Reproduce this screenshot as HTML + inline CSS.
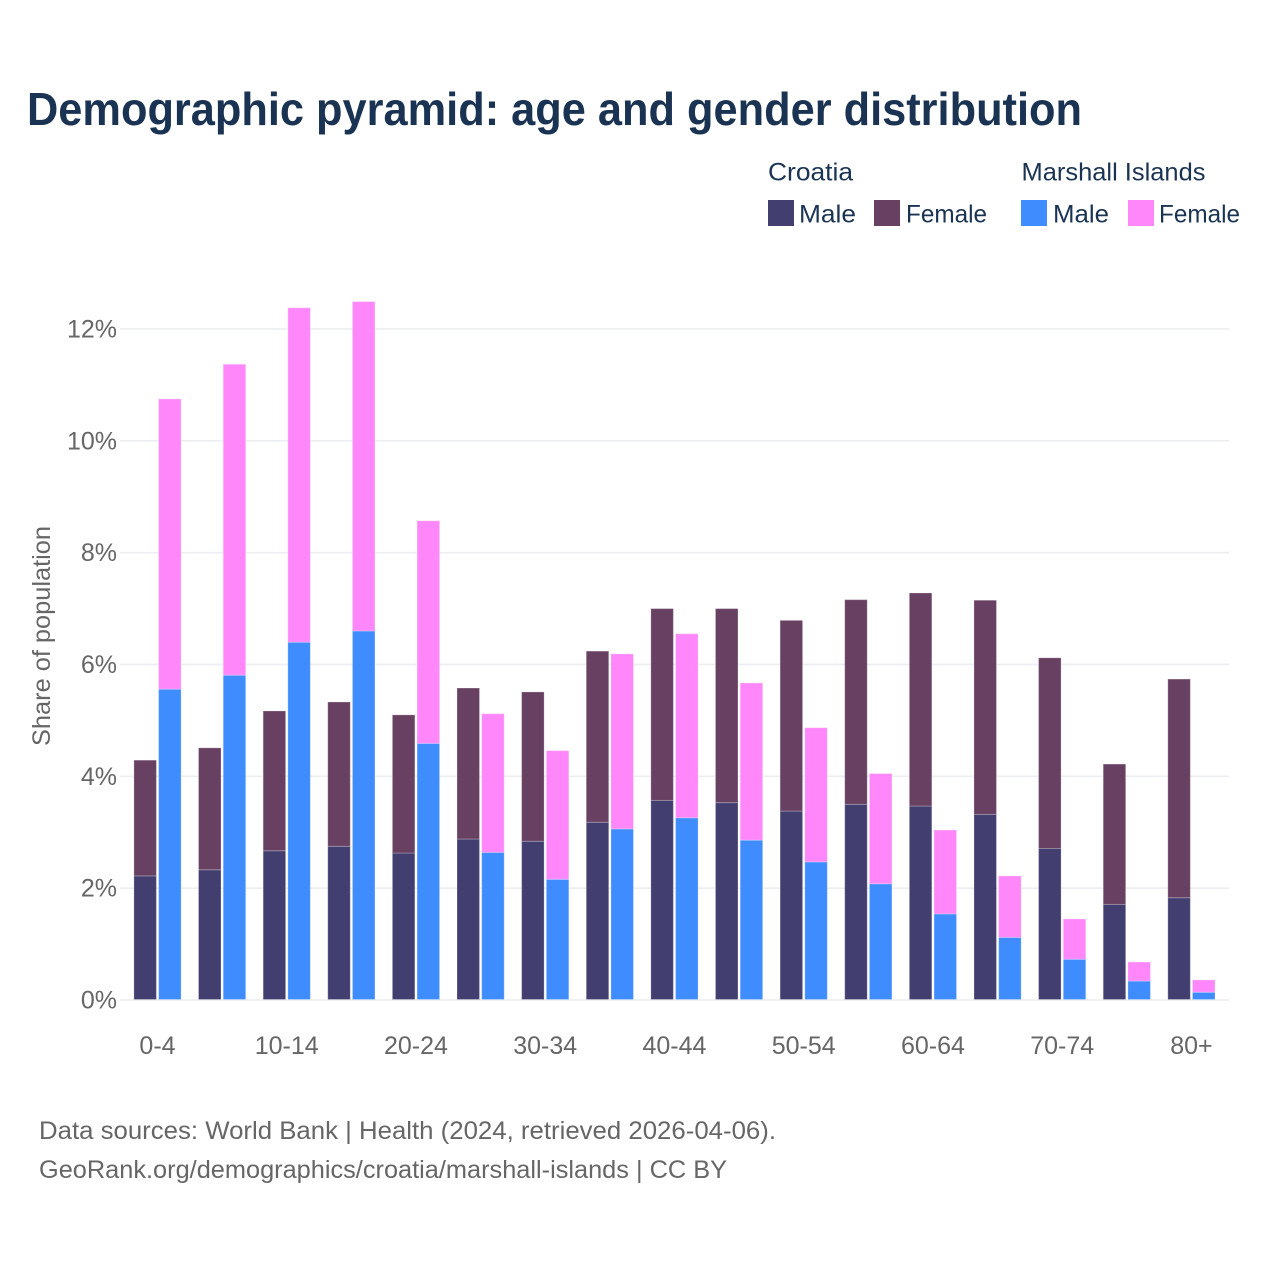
<!DOCTYPE html>
<html lang="en">
<head>
<meta charset="utf-8">
<title>Demographic pyramid: age and gender distribution</title>
<style>
html,body{margin:0;padding:0;background:#fff;}
svg{display:block;}
text{font-family:"Liberation Sans",sans-serif;}
.title{font-size:46px;font-weight:700;fill:#1a3353;}
.legend{font-size:25px;fill:#1a3353;}
.tick{font-size:25px;fill:#666666;}
.foot{font-size:25px;fill:#666666;}
</style>
</head>
<body>
<svg id="chart" xmlns="http://www.w3.org/2000/svg" width="1280" height="1280" viewBox="0 0 1280 1280">
  <rect x="0" y="0" width="1280" height="1280" fill="#ffffff"/>
  <text class="title" x="27" y="125" textLength="1055" lengthAdjust="spacingAndGlyphs">Demographic pyramid: age and gender distribution</text>

  <g>
    <text class="legend" x="768" y="180.5" textLength="85" lengthAdjust="spacingAndGlyphs">Croatia</text>
    <text class="legend" x="1021.5" y="180.5" textLength="184" lengthAdjust="spacingAndGlyphs">Marshall Islands</text>
    <rect x="768" y="200" width="26" height="26" fill="#423e70"/>
    <text class="legend" x="799" y="222.5" textLength="57" lengthAdjust="spacingAndGlyphs">Male</text>
    <rect x="874" y="200" width="26" height="26" fill="#674062"/>
    <text class="legend" x="906" y="222.5" textLength="81" lengthAdjust="spacingAndGlyphs">Female</text>
    <rect x="1021" y="200" width="26" height="26" fill="#3f8cff"/>
    <text class="legend" x="1053" y="222.5" textLength="56" lengthAdjust="spacingAndGlyphs">Male</text>
    <rect x="1128" y="200" width="26" height="26" fill="#ff87fa"/>
    <text class="legend" x="1159" y="222.5" textLength="81" lengthAdjust="spacingAndGlyphs">Female</text>
  </g>

  <text class="tick" transform="translate(50,636) rotate(-90)" text-anchor="middle" textLength="220" lengthAdjust="spacingAndGlyphs">Share of population</text>

  <g id="grid"></g>
  <g id="bars"></g>
  <g id="yticks"></g>
  <g id="xticks"></g>

  <text class="foot" x="39" y="1139" textLength="737" lengthAdjust="spacingAndGlyphs">Data sources: World Bank | Health (2024, retrieved 2026-04-06).</text>
  <text class="foot" x="39" y="1178" textLength="688" lengthAdjust="spacingAndGlyphs">GeoRank.org/demographics/croatia/marshall-islands | CC BY</text>
</svg>
<script>
const categories = ["0-4","5-9","10-14","15-19","20-24","25-29","30-34","35-39","40-44","45-49","50-54","55-59","60-64","65-69","70-74","75-79","80+"];
const croatiaMale = [2.21,2.32,2.66,2.74,2.62,2.87,2.83,3.17,3.56,3.52,3.37,3.49,3.46,3.31,2.70,1.70,1.82];
const croatiaFemale = [2.07,2.18,2.50,2.58,2.47,2.70,2.67,3.06,3.43,3.47,3.41,3.66,3.81,3.83,3.41,2.51,3.91];
const marshallMale = [5.55,5.80,6.39,6.59,4.58,2.63,2.15,3.05,3.25,2.85,2.46,2.07,1.53,1.11,0.72,0.33,0.13];
const marshallFemale = [5.19,5.56,5.98,5.89,3.98,2.48,2.30,3.13,3.29,2.81,2.40,1.97,1.50,1.10,0.72,0.34,0.22];
const yTickValues = [0,2,4,6,8,10,12];

const NS = "http://www.w3.org/2000/svg";
const plotLeft = 120, plotRight = 1229;
const bandStart = 125.4, bandStep = 64.62, barWidth = 22.5, barGap = 2.2, barInset = 8.5;
const yZero = 999.5, pxPerUnit = 55.92;
function yScale(v){ return yZero - v * pxPerUnit; }
function xScale(i){ return bandStart + bandStep * i; }
function groupCenter(i){ return xScale(i) + barInset + barWidth + barGap / 2; }

const grid = document.getElementById("grid");
const yticks = document.getElementById("yticks");
yTickValues.forEach(function(v){
  const line = document.createElementNS(NS, "line");
  line.setAttribute("x1", plotLeft);
  line.setAttribute("x2", plotRight);
  line.setAttribute("y1", yScale(v) + 0.5);
  line.setAttribute("y2", yScale(v) + 0.5);
  line.setAttribute("stroke", "#eceef1");
  line.setAttribute("stroke-width", "1.6");
  
  
  grid.appendChild(line);
  const t = document.createElementNS(NS, "text");
  t.setAttribute("class", "tick");
  t.setAttribute("x", 117);
  t.setAttribute("y", yScale(v) + 9);
  t.setAttribute("text-anchor", "end");
  t.textContent = v + "%";
  
  
  yticks.appendChild(t);
});

const barsGroup = document.getElementById("bars");
function drawBar(x, base, value, fill){
  const r = document.createElementNS(NS, "rect");
  r.setAttribute("x", x);
  r.setAttribute("y", yScale(base + value));
  r.setAttribute("width", barWidth);
  r.setAttribute("height", value * pxPerUnit);
  r.setAttribute("fill", fill);
  r.setAttribute("stroke", "#ffffff");
  r.setAttribute("stroke-opacity", "0.25");
  r.setAttribute("stroke-width", "1");
  
  
  barsGroup.appendChild(r);
}
categories.forEach(function(c, i){
  const x1 = xScale(i) + barInset;
  const x2 = x1 + barWidth + barGap;
  drawBar(x1, 0, croatiaMale[i], "#423e70");
  drawBar(x1, croatiaMale[i], croatiaFemale[i], "#674062");
  drawBar(x2, 0, marshallMale[i], "#3f8cff");
  drawBar(x2, marshallMale[i], marshallFemale[i], "#ff87fa");
});

const xticks = document.getElementById("xticks");
categories.forEach(function(c, i){
  if (i % 2 !== 0) return;
  const t = document.createElementNS(NS, "text");
  t.setAttribute("class", "tick");
  t.setAttribute("x", groupCenter(i));
  t.setAttribute("y", 1054);
  t.setAttribute("text-anchor", "middle");
  t.textContent = c;
  
  
  xticks.appendChild(t);
});
</script>
</body>
</html>
